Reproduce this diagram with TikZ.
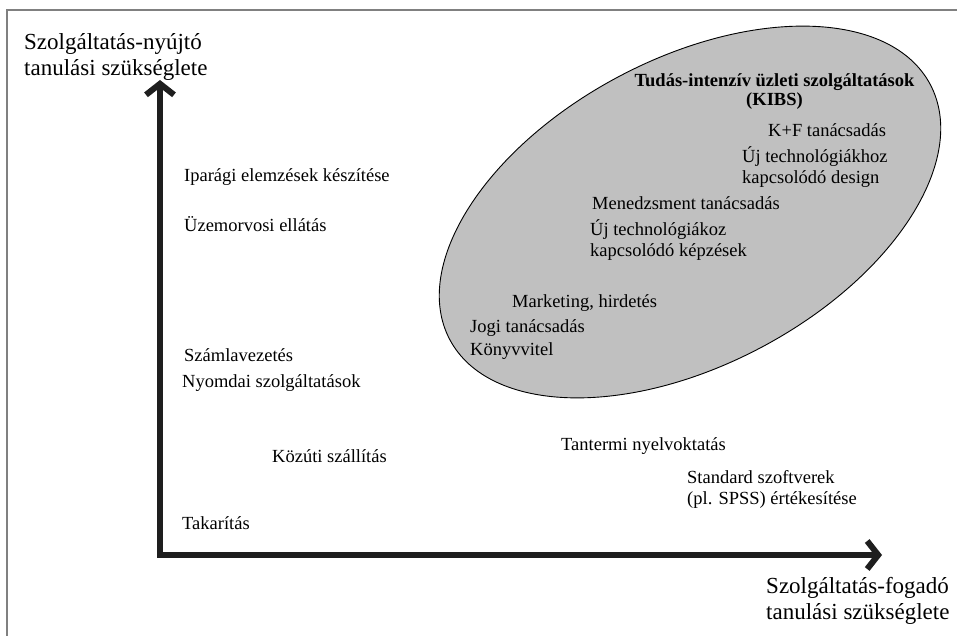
\documentclass[tikz,border=0pt]{standalone}
\usepackage{fontspec}
\setmainfont{Liberation Serif}
\usetikzlibrary{arrows.meta,positioning}

\definecolor{kibsfill}{RGB}{192,192,192}
\definecolor{axisdark}{RGB}{30,30,30}

\tikzset{
  svc/.style={anchor=west, inner sep=0pt, align=left, font=\fontsize{18.5}{21}\selectfont},
  axislabel/.style={anchor=west, inner sep=0pt, align=left, font=\fontsize{23}{26}\selectfont},
  axis/.style={draw=axisdark, line width=6pt, line join=miter,
    arrows={Straight Barb[length=11pt,width=28pt]-Straight Barb[length=11pt,width=28pt]}},
}

\begin{document}
\begin{tikzpicture}[x=1pt,y=-1pt]
   \useasboundingbox (0,0) rectangle (957,636);
   % frame
   \draw[gray, line width=1.5pt] (7,636) -- (7,10) -- (957,10);
   % KIBS ellipse
   \coordinate (kibscenter) at (690,212);
   \draw[fill=kibsfill, line width=0.9pt, rotate around={28:(kibscenter)}]
     (kibscenter) ellipse [x radius=272, y radius=153];
   % axes
   \coordinate (origin) at (160,555);
   \coordinate (ytop) at (160,80);
   \coordinate (xend) at (882,555);
   \draw[axis] (ytop) -- (origin) -- (xend);
   \node (ylab) [axislabel] at (24,57) {Szolgáltatás-nyújtó\\tanulási szükséglete};
   \node (xlab) [axislabel] at (766,601) {Szolgáltatás-fogadó\\tanulási szükséglete};
   % services inside the ellipse
   \node (kibs) at (774.5,92) [inner sep=0pt, align=center, font=\bfseries\fontsize{18.5}{19}\selectfont]
     {Tudás-intenzív üzleti szolgáltatások\\(KIBS)};
   \node (kf) [svc] at (768,130) {K+F tanácsadás};
   \node (design) [svc] at (742,167) {Új technológiákhoz\\kapcsolódó design};
   \node (menedzsment) [svc] at (592,203) {Menedzsment tanácsadás};
   \node (kepzes) [svc] at (590,240) {Új technológiákoz\\kapcsolódó képzések};
   \node (marketing) [svc] at (512,303) {Marketing, hirdetés};
   \node (jogi) [svc] at (470,328) {Jogi tanácsadás};
   \node (konyv) [svc] at (470,351) {Könyvvitel};
   % services outside the ellipse
   \node (iparagi) [svc] at (184,177) {Iparági elemzések készítése};
   \node (uzem) [svc] at (184,224) {Üzemorvosi ellátás};
   \node (szamla) [svc] at (184,355) {Számlavezetés};
   \node (nyomda) [svc] at (182,383) {Nyomdai szolgáltatások};
   \node (kozuti) [svc] at (272,456) {Közúti szállítás};
   \node (takaritas) [svc] at (182,523) {Takarítás};
   \node (tantermi) [svc] at (561,446) {Tantermi nyelvoktatás};
   \node (standard) [svc] at (687,489) {Standard szoftverek\\(pl. SPSS) értékesítése};
\end{tikzpicture}
\end{document}
